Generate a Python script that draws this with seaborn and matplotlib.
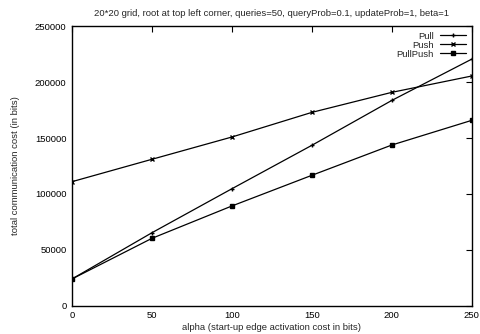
import pandas as pd
import seaborn as sns
import matplotlib
matplotlib.use("Agg")
from matplotlib import pyplot as plt

alpha = [0, 50, 100, 150, 200, 250]
pull = [24100, 65400, 104700, 143500, 183600, 220500]
push = [111000, 131000, 150900, 172900, 190800, 205400]
pullpush = [24100, 60400, 89300, 116700, 143750, 165800]
series_names = ['Pull', 'Push', 'PullPush']
series_markers = ['+', 'x', 's']

sns.set_theme(style="white")
plt.rcParams['font.family'] = ['Liberation Sans', 'DejaVu Sans']
fs = 6.8

fig = plt.figure(figsize=(4.8, 3.34), dpi=100)
ax = fig.add_axes([0.15, 0.084, 0.833, 0.838])

# one call per series: seaborn won't mix filled and line-art markers
for name, vals, mk in zip(series_names, [pull, push, pullpush], series_markers):
    df = pd.DataFrame({'alpha': alpha, 'cost': vals})
    sns.lineplot(data=df, x='alpha', y='cost', color='black', marker=mk,
                 markersize=3.5 if mk != 's' else 2.8, linewidth=0.9,
                 markeredgewidth=1.0, markeredgecolor='black', label=name, ax=ax)

ax.set_xlim(0, 250)
ax.set_ylim(0, 250000)
ax.set_xticks(alpha)
ax.set_yticks([0, 50000, 100000, 150000, 200000, 250000])
ax.tick_params(direction='in', length=4, width=0.8, top=True, right=True,
               labelsize=fs, colors='black', pad=4)
for s in ax.spines.values():
    s.set_color('black')
    s.set_linewidth(1.0)

ax.set_xlabel('alpha (start-up edge activation cost in bits)', fontsize=fs, labelpad=2)
ax.set_ylabel('total communication cost (in bits)', fontsize=fs, labelpad=11)
ax.set_title('20*20 grid, root at top left corner, queries=50, queryProb=0.1, updateProb=1, beta=1',
             fontsize=fs, pad=7)

handles, labels = ax.get_legend_handles_labels()
ax.legend(handles, labels, loc='upper right', frameon=False, markerfirst=False,
          fontsize=fs, handlelength=2.8, labelspacing=0.0,
          borderaxespad=0.2, handletextpad=0.6)

fig.savefig('out.png', dpi=100)
